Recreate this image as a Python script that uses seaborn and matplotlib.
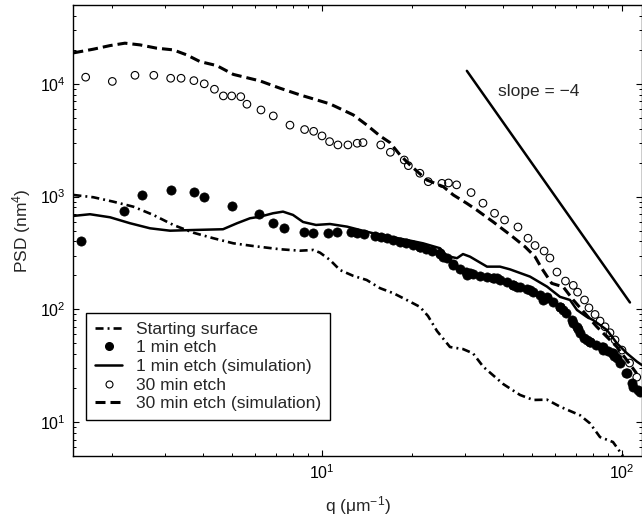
import matplotlib
matplotlib.use("Agg")
import matplotlib.pyplot as plt
import matplotlib.ticker as mticker
from matplotlib.lines import Line2D
import seaborn as sns

# ---- data -----------------------------------------------------------------
# starting surface (measured PSD)
q_start = [1.483, 1.729, 2.015, 2.350, 2.740, 3.194, 3.724, 4.342, 5.062, 5.902,
           7.244, 8.447, 9.354, 9.847, 10.63, 11.48, 12.71, 14.09, 15.61, 17.29,
           19.16, 21.22, 22.56, 24.17, 26.71, 29.51, 31.87, 34.49, 40.22, 45.71,
           50.62, 56.23, 62.13, 72.44, 78.22, 84.47, 93.33, 98.47, 100.8]
psd_start = [1033, 986, 901, 813, 687, 560, 478, 427, 385, 364,
             341, 331, 336, 318, 274, 223, 198, 182, 154, 139,
             121, 105, 87.2, 64.2, 46.3, 44.4, 40.7, 30.9, 21.7, 17.4,
             15.7, 15.8, 13.7, 11.5, 9.74, 7.36, 6.65, 5.45, 4.99]

# 1 min etch (measured); the high-q part is densely sampled
q_1min = [1.57, 2.19, 2.51, 3.14, 3.75, 4.05, 5.0, 6.17, 6.88, 7.49,
          8.71, 9.36, 10.5, 11.2, 12.5, 13.1, 13.8, 15.0, 15.7, 16.5,
          17.3, 18.2, 19.05, 20.1, 21.2, 22.2, 23.3, 24.7, 26.1, 27.3,
          28.8, 30.2, 31.9, 33.6, 35.5, 37.4, 39.2, 41.4, 43.3, 45.7,
          48.2, 50.5, 53.3, 56.2, 58.9, 62.1, 65.1, 68.1, 71.3, 74.7,
          78.2, 81.9, 85.8, 89.8, 94.0, 98.5, 103.1, 108.0, 113.1,
          21.22, 24.74, 27.40, 31.14, 38.22, 43.42, 49.36, 56.1, 63.71, 68.81,
          54.66, 62.13, 72.44, 78.22, 86.6, 93.5, 96.0, 103.7, 109.1, 114.8,
          25.37, 30.36, 37.24, 44.57, 70.63, 76.24, 86.6, 92.4]
psd_1min = [406, 750, 1030, 1146, 1106, 998, 830, 701, 586, 524,
            488, 472, 472, 482, 482, 472, 463, 447, 438, 429,
            412, 396, 388, 372, 357, 343, 330, 309, 285, 252,
            228, 214, 206, 198, 194, 190, 182, 174, 164, 158,
            152, 142, 134, 126, 116, 105, 92.7, 80.5, 67, 55.5,
            51.3, 48.2, 46.3, 42.7, 38.5, 33.4, 27.3, 22.2, 19.2,
            359, 314, 247, 209, 188, 164, 148, 129, 98.6, 75.6,
            121, 105, 61.2, 51.6, 46.6, 40.7, 36.7, 27.0, 20.6, 18.6,
            293, 201, 188, 159, 70.1, 53.4, 43.5, 40.7]

# 1 min etch (simulation)
q_1min_sim = [1.479, 1.685, 1.965, 2.291, 2.671, 3.114, 3.715, 4.677, 5.21, 5.754,
              6.213, 6.866, 7.413, 8.005, 8.644, 9.55, 10.63, 12.12, 13.39, 14.79,
              16.85, 19.2, 21.71, 24.74, 26.1, 28.18, 29.51, 31.14, 35.48, 39.21,
              42.36, 49.36, 56.23, 62.13, 67.1, 70.8, 76.4, 80.05, 89.1, 96.2,
              103.9, 112.2, 116.6]
psd_1min_sim = [673, 697, 655, 580, 523, 498, 505, 513, 580, 642,
                663, 711, 735, 687, 595, 560, 571, 541, 505, 473,
                441, 412, 385, 348, 297, 284, 309, 293, 239, 239,
                226, 195, 159, 129, 121, 98.6, 85.5, 80.4, 65.5, 49.9,
                40.7, 34.3, 32]

# 30 min etch (measured)
q_30min = [1.63, 2.0, 2.38, 2.75, 3.13, 3.39, 3.74, 4.05, 4.38, 4.69,
           5.0, 5.36, 5.62, 6.26, 6.88, 7.82, 8.75, 9.38, 10.0, 10.6,
           11.3, 12.2, 13.1, 13.7, 15.7, 16.9, 18.8, 19.4, 21.2, 22.6,
           25.1, 26.4, 28.1, 31.4, 34.4, 37.6, 40.6, 45.0, 48.6, 51.3,
           55.0, 57.5, 60.7, 64.8, 68.8, 71.1, 75.0, 77.6, 81.3, 84.5,
           87.8, 91.2, 94.8, 100, 106, 112]
psd_30min = [11450, 10500, 11900, 11900, 11200, 11200, 10670, 10000, 8950, 7810,
             7810, 7690, 6590, 5860, 5190, 4300, 3930, 3790, 3450, 3070,
             2870, 2870, 2970, 3010, 2870, 2470, 2110, 1880, 1610, 1355,
             1310, 1320, 1270, 1085, 873, 711, 620, 537, 427, 368,
             329, 285, 214, 178, 163, 142, 121, 103, 90, 78.7,
             70, 62, 53.5, 43.5, 33.4, 25]

# 30 min etch (simulation)
q_30min_sim = [1.483, 1.729, 1.965, 2.204, 2.474, 2.812, 3.194, 3.540, 3.921, 4.457,
               5.062, 6.213, 7.244, 8.447, 9.354, 10.63, 12.71, 14.09, 15.61, 16.85,
               18.2, 19.65, 22.34, 25.37, 27.40, 30.36, 32.79, 37.24, 42.89, 47.51,
               51.29, 54.0, 58.3, 63.7, 68.8, 82.4, 96.0, 103.7, 111.9]
psd_30min_sim = [18800, 20280, 21830, 22930, 22140, 20700, 19990, 18050, 15740, 14510,
                 12120, 10610, 9140, 7970, 7350, 6635, 5300, 4318, 3449, 3009,
                 2339, 1907, 1404, 1224, 1033, 872, 760, 595, 447, 359,
                 293, 231, 170, 158, 121, 70.1, 46.6, 35.5, 27.0]

# reference power-law guide
q_slope = [30.4, 106.3]
psd_slope = [13030, 115]

labels = ["Starting surface", "1 min etch", "1 min etch (simulation)",
          "30 min etch", "30 min etch (simulation)"]

# ---- style ----------------------------------------------------------------
sns.set_style("ticks")
plt.rcParams.update({
    "font.family": ["Liberation Sans", "DejaVu Sans"],
    "mathtext.fontset": "custom",
    "mathtext.rm": "Liberation Sans",
    "mathtext.it": "Liberation Sans:italic",
    "mathtext.bf": "Liberation Sans:bold",
    "mathtext.sf": "Liberation Sans",
    "mathtext.default": "regular",
    "axes.edgecolor": "black",
    "axes.linewidth": 1.0,
    "lines.scale_dashes": False,
    "xtick.direction": "in",
    "ytick.direction": "in",
    "xtick.top": True,
    "ytick.right": True,
    "xtick.color": "black",
    "ytick.color": "black",
})

fig = plt.figure(figsize=(6.42, 5.20), dpi=100)
ax = fig.add_axes([73 / 642, 64 / 520, 569 / 642, 451 / 520])
ax.set_xscale("log")
ax.set_yscale("log")

dashdot = (0, (5.8, 2.9, 1.4, 2.9))
dashed = (0, (7.2, 3.6))

sns.lineplot(x=q_start, y=psd_start, ax=ax, color="black", lw=1.9,
             linestyle=dashdot, sort=False, estimator=None)
sns.lineplot(x=q_1min_sim, y=psd_1min_sim, ax=ax, color="black", lw=1.8,
             sort=False, estimator=None)
sns.lineplot(x=q_30min_sim, y=psd_30min_sim, ax=ax, color="black", lw=2.2,
             linestyle=dashed, sort=False, estimator=None)
sns.lineplot(x=q_slope, y=psd_slope, ax=ax, color="black", lw=1.8,
             sort=False, estimator=None)
sns.scatterplot(x=q_1min, y=psd_1min, ax=ax, s=44, color="black",
                edgecolor="black", linewidth=0.5, zorder=3)
sns.scatterplot(x=q_30min, y=psd_30min, ax=ax, s=30, facecolor="none",
                edgecolor="black", linewidth=0.8, zorder=3)

ax.text(52.9, 8470, "slope = \u22124", ha="center", va="center", fontsize=12.5)

ax.set_xlim(1.479, 116.6)
ax.set_ylim(5, 5e4)

ax.xaxis.set_major_locator(mticker.LogLocator(base=10))
ax.yaxis.set_major_locator(mticker.LogLocator(base=10))
ax.xaxis.set_minor_locator(mticker.LogLocator(base=10, subs=range(2, 10)))
ax.yaxis.set_minor_locator(mticker.LogLocator(base=10, subs=range(2, 10)))
ax.xaxis.set_major_formatter(mticker.LogFormatterSciNotation())
ax.yaxis.set_major_formatter(mticker.LogFormatterSciNotation())
ax.xaxis.set_minor_formatter(mticker.NullFormatter())
ax.yaxis.set_minor_formatter(mticker.NullFormatter())
ax.tick_params(which="major", length=4, width=0.8, labelsize=11.5, pad=5)
ax.tick_params(which="minor", length=2.3, width=0.7)
for sp in ax.spines.values():
    sp.set_visible(True)
    sp.set_color("black")

ax.set_xlabel(r"q ($\mu$m$^{-1}$)", fontsize=12.5, labelpad=9)
ax.set_ylabel(r"PSD (nm$^{4}$)", fontsize=12.5, labelpad=5)

handles = [
    Line2D([], [], color="black", lw=1.9, linestyle=dashdot),
    Line2D([], [], color="black", marker="o", linestyle="none", markersize=5.5),
    Line2D([], [], color="black", lw=1.8),
    Line2D([], [], color="black", marker="o", markerfacecolor="none",
           markeredgewidth=0.8, linestyle="none", markersize=5),
    Line2D([], [], color="black", lw=2.2, linestyle=dashed),
]
leg = ax.legend(handles, labels, loc="lower left",
                bbox_to_anchor=(13 / 569, 36 / 451), borderaxespad=0,
                fontsize=12.5, frameon=True, fancybox=False, framealpha=1,
                edgecolor="black", handlelength=1.6, handletextpad=0.8,
                labelspacing=0.2, borderpad=0.5)
leg.get_frame().set_linewidth(1.0)

fig.savefig("out.png", dpi=100)
